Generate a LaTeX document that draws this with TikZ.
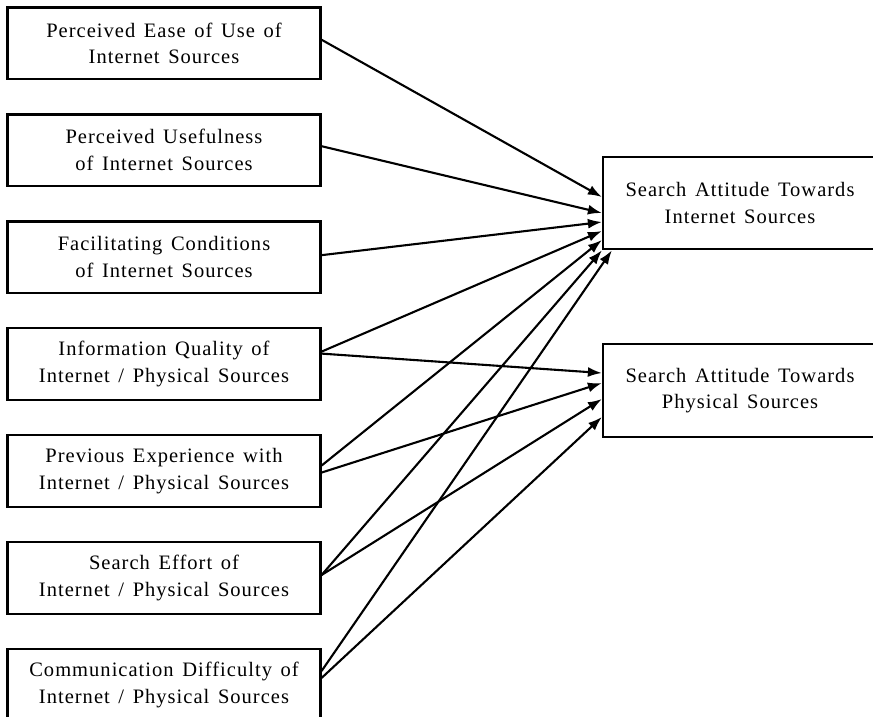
\documentclass[tikz,border=0pt]{standalone}
\usepackage{fontspec}
\setmainfont{Liberation Serif}[LetterSpace=5, WordSpace=1.4]
\usetikzlibrary{arrows.meta, positioning}

\begin{document}
\begin{tikzpicture}[
    x=1pt, y=-1pt,
    node distance=33.25pt,
    every node/.style={font=\fontsize{20.5}{26.7}\selectfont, align=center},
    box/.style={
        draw,
        line width=2.2pt,
        minimum width=313pt,
        minimum height=71.5pt,
        inner sep=0pt,
        text centered
    },
    bigbox/.style={
        draw,
        line width=2.2pt,
        minimum width=274pt,
        minimum height=92.5pt,
        inner sep=0pt,
        text centered
    },
    arrow/.style={
        -{Latex[length=14pt, width=10pt]},
        line width=2.1pt
    }
]
\useasboundingbox (0,0) rectangle (873,716);

\node[box] (ease) at (164,43.25) {Perceived Ease of Use of\\Internet Sources};
\node[box, below=of ease] (useful) {Perceived Usefulness\\of Internet Sources};
\node[box, below=of useful] (facil) {Facilitating Conditions\\of Internet Sources};
\node[box, below=of facil] (quality) {Information Quality of\\Internet / Physical Sources};
\node[box, below=of quality] (exper) {Previous Experience with\\Internet / Physical Sources};
\node[box, below=of exper] (effort) {Search Effort of\\Internet / Physical Sources};
\node[box, below=of effort] (comm) {Communication Difficulty of\\Internet / Physical Sources};

\node[bigbox] (attint) at (740,203) {Search Attitude Towards\\Internet Sources};
\node[bigbox] (attphy) at (740,390.5) {Search Attitude Towards\\Physical Sources};

% towards internet sources
\draw[arrow] ([yshift=3.5pt]ease.east) -- ([yshift=6pt]attint.west);
\draw[arrow] ([yshift=4pt]useful.east) -- ([yshift=-10pt]attint.west);
\draw[arrow] ([yshift=2pt]facil.east) -- ([yshift=-19pt]attint.west);
\draw[arrow] ([yshift=12.5pt]quality.east) -- ([yshift=-28pt]attint.west);
\draw[arrow] ([yshift=5.5pt]exper.east) -- ([yshift=-37pt]attint.west);
\draw[arrow] ([yshift=3pt]effort.east) -- (attint.south west);
\draw[arrow] ([yshift=14pt]comm.east) -- ([xshift=10pt]attint.south west);

% towards physical sources
\draw[arrow] ([yshift=10.5pt]quality.east) -- ([yshift=17.5pt]attphy.west);
\draw[arrow] ([yshift=-1.5pt]exper.east) -- ([yshift=7.5pt]attphy.west);
\draw[arrow] ([yshift=3pt]effort.east) -- ([yshift=-8.5pt]attphy.west);
\draw[arrow] ([yshift=7pt]comm.east) -- ([yshift=-26.5pt]attphy.west);

\end{tikzpicture}
\end{document}
